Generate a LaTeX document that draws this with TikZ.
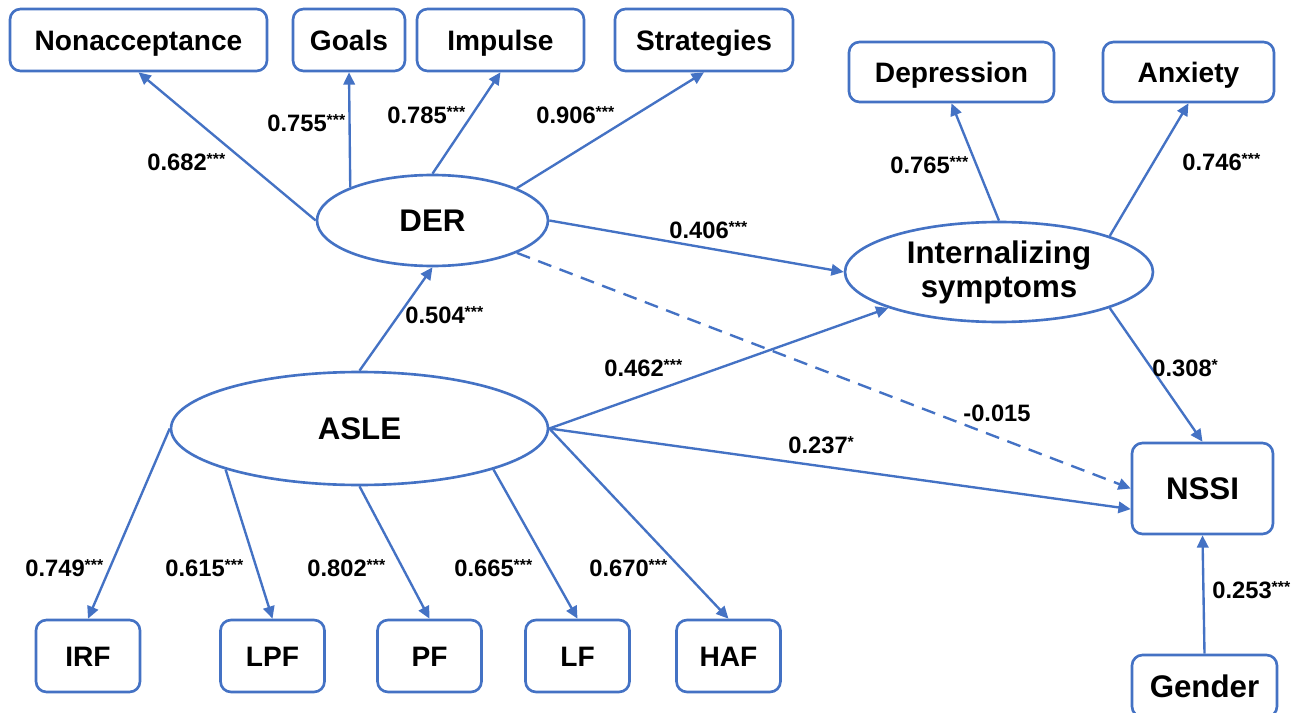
\documentclass[tikz,border=0pt]{standalone}
\usepackage{fontspec}
\setmainfont{Liberation Sans}
\usetikzlibrary{shapes.geometric, arrows.meta, positioning}
\definecolor{semblue}{RGB}{68, 114, 196}
\newcommand{\pstar}[1]{\raisebox{3.6pt}{\fontsize{9}{9}\selectfont #1}}

\tikzset{
  latent/.style={ellipse, draw=semblue, line width=1.5pt, inner sep=0pt, align=center,
    font=\fontsize{17.8}{19.3}\selectfont\bfseries},
  observed/.style={rectangle, rounded corners=6pt, draw=semblue, line width=1.5pt, inner sep=0pt,
    text height=11.5pt, text depth=0pt, font=\fontsize{16}{19}\selectfont\bfseries},
  bigtext/.style={text height=12.8pt, font=\fontsize{17.8}{20}\selectfont\bfseries},
  link/.style={draw=semblue, line width=1.35pt, -{Triangle[length=7pt,width=6.5pt]}},
  coef/.style={anchor=base west, inner sep=0pt, font=\fontsize{13.5}{16}\selectfont\bfseries}
}

\begin{document}
\begin{tikzpicture}[x=0.02cm, y=-0.02cm]
  \useasboundingbox (0,0) rectangle (1299,713);

  % latent variables
  \node[latent, minimum width=4.62cm, minimum height=1.82cm] (der) at (432.5,220.5) {DER};
  \node[latent, minimum width=6.16cm, minimum height=2cm] (int) at (999,272) {Internalizing\\symptoms};
  \node[latent, minimum width=7.54cm, minimum height=2.26cm] (asle) at (359.5,428.5) {ASLE};

  % indicators of DER
  \node[observed, minimum width=5.14cm, minimum height=1.24cm] (nonacc) at (138.5,40) {Nonacceptance};
  \node[observed, minimum width=2.24cm, minimum height=1.24cm] (goals) at (349,40) {Goals};
  \node[observed, minimum width=3.34cm, minimum height=1.24cm] (impulse) at (500.5,40) {Impulse};
  \node[observed, minimum width=3.56cm, minimum height=1.24cm] (strategies) at (704,40) {Strategies};

  % indicators of internalizing symptoms
  \node[observed, minimum width=4.1cm, minimum height=1.2cm] (depression) at (951.5,72) {Depression};
  \node[observed, minimum width=3.42cm, minimum height=1.2cm] (anxiety) at (1188.5,72) {Anxiety};

  % outcome and covariate
  \node[observed, bigtext, minimum width=2.82cm, minimum height=1.82cm] (nssi) at (1202.5,488.5) {NSSI};
  \node[observed, bigtext, minimum width=2.9cm, minimum height=1.24cm] (gender) at (1204.5,686) {Gender};

  % indicators of ASLE
  \node[observed, minimum width=2.08cm, minimum height=1.44cm] (irf) at (88,656) {IRF};
  \node[observed, minimum width=2.08cm, minimum height=1.44cm] (lpf) at (272.5,656) {LPF};
  \node[observed, minimum width=2.08cm, minimum height=1.44cm] (pf) at (429.5,656) {PF};
  \node[observed, minimum width=2.08cm, minimum height=1.44cm] (lf) at (577.5,656) {LF};
  \node[observed, minimum width=2.08cm, minimum height=1.44cm] (haf) at (728.5,656) {HAF};

  % loadings
  \draw[link] (der.west) -- (nonacc.south);
  \draw[link] (der.158) -- (goals.south);
  \draw[link] (der.north) -- (impulse.south);
  \draw[link] (der.21) -- (strategies.south);
  \draw[link] (int.north) -- (depression.south);
  \draw[link] (int.18) -- (anxiety.south);
  \draw[link] (asle.west) -- (irf.north);
  \draw[link] (asle.197) -- (lpf.north);
  \draw[link] (asle.south) -- (pf.north);
  \draw[link] (asle.-17) -- (lf.north);
  \draw[link] (asle.east) -- (haf.north);

  % structural paths
  \draw[link] (asle.north) -- (der.south);
  \draw[link] (der.east) -- (int.west);
  \draw[link] (asle.east) -- (int.198);
  \draw[link] (asle.east) -- (nssi.196);
  \draw[link, dash pattern=on 8pt off 5pt] (der.-21) -- (nssi.west);
  \draw[link] (int.-18) -- (nssi.north);
  \draw[link] (gender.north) -- (nssi.south);

  % coefficients
  \node[coef] (c682) at (147,170.5) {0.682\pstar{***}};
  \node[coef] (c755) at (267,131.5) {0.755\pstar{***}};
  \node[coef] (c785) at (387,123.5) {0.785\pstar{***}};
  \node[coef] (c906) at (536,123.5) {0.906\pstar{***}};
  \node[coef] (c406) at (669,238.5) {0.406\pstar{***}};
  \node[coef] (c504) at (405,323.5) {0.504\pstar{***}};
  \node[coef] (c462) at (604,376.5) {0.462\pstar{***}};
  \node[coef] (c765) at (890,173.5) {0.765\pstar{***}};
  \node[coef] (c746) at (1182,170.5) {0.746\pstar{***}};
  \node[coef] (c015) at (963,421.5) {-0.015};
  \node[coef] (c237) at (788,453.5) {0.237\pstar{*}};
  \node[coef] (c308) at (1152,376.5) {0.308\pstar{*}};
  \node[coef] (c253) at (1212,598.5) {0.253\pstar{***}};
  \node[coef] (c749) at (25,576.5) {0.749\pstar{***}};
  \node[coef] (c615) at (165,576.5) {0.615\pstar{***}};
  \node[coef] (c802) at (307,576.5) {0.802\pstar{***}};
  \node[coef] (c665) at (454,576.5) {0.665\pstar{***}};
  \node[coef] (c670) at (589,576.5) {0.670\pstar{***}};
\end{tikzpicture}
\end{document}
